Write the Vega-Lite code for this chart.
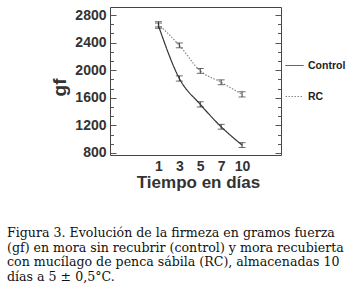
{
  "$schema": "https://vega.github.io/schema/vega-lite/v6.json",
  "width": 171,
  "height": 148,
  "autosize": {"type": "none"},
  "padding": {"left": 110, "top": 7, "right": 74, "bottom": 146},
  "background": "white",
  "config": {
    "view": {"stroke": "#444", "strokeWidth": 1},
    "font": "Liberation Sans"
  },
  "title": {
    "text": [
      "Figura 3. Evolución de la firmeza en gramos fuerza",
      "(gf) en mora sin recubrir (control) y mora recubierta",
      "con mucílago de penca sábila (RC), almacenadas 10",
      "días a 5 ± 0,5°C."
    ],
    "orient": "bottom",
    "anchor": "start",
    "frame": "group",
    "dx": -103,
    "offset": 37,
    "font": "DejaVu Serif",
    "fontSize": 12.6,
    "fontWeight": "normal",
    "lineHeight": 14.7,
    "color": "#111",
    "baseline": "top"
  },
  "data": {
    "values": [
      {"day": "1", "series": "Control", "gf": 2645, "lo": 2607, "hi": 2683},
      {"day": "3", "series": "Control", "gf": 1880, "lo": 1842, "hi": 1918},
      {"day": "5", "series": "Control", "gf": 1505, "lo": 1467, "hi": 1543},
      {"day": "7", "series": "Control", "gf": 1180, "lo": 1145, "hi": 1215},
      {"day": "10", "series": "Control", "gf": 915, "lo": 880, "hi": 950},
      {"day": "1", "series": "RC", "gf": 2665, "lo": 2627, "hi": 2703},
      {"day": "3", "series": "RC", "gf": 2360, "lo": 2325, "hi": 2395},
      {"day": "5", "series": "RC", "gf": 1990, "lo": 1955, "hi": 2025},
      {"day": "7", "series": "RC", "gf": 1825, "lo": 1790, "hi": 1860},
      {"day": "10", "series": "RC", "gf": 1650, "lo": 1612, "hi": 1688}
    ]
  },
  "encoding": {
    "x": {
      "field": "day",
      "type": "ordinal",
      "sort": ["1", "3", "5", "7", "10"],
      "scale": {"type": "point", "range": [38, 142.5]},
      "axis": {
        "labelFont": "Liberation Sans",
        "labelFontWeight": "bold",
        "labelFontSize": 14,
        "labelColor": "#333",
        "labelAngle": 0,
        "labelPadding": 4,
        "ticks": false,
        "domain": false,
        "grid": false,
        "title": "Tiempo en días",
        "titleFont": "Liberation Sans",
        "titleFontSize": 17,
        "titleFontWeight": "bold",
        "titleColor": "#333",
        "titleX": 88,
        "titleY": 19,
        "titleBaseline": "top"
      }
    }
  },
  "layer": [
    {
      "mark": {"type": "line", "interpolate": "monotone", "strokeWidth": 1.2},
      "encoding": {
        "y": {
          "field": "gf",
          "type": "quantitative",
          "scale": {"domain": [771, 2916], "nice": false, "zero": false},
          "axis": {
            "orient": "left",
            "values": [800, 1200, 1600, 2000, 2400, 2800],
            "format": "d",
            "labelFont": "Liberation Sans",
            "labelFontSize": 14,
            "labelFontWeight": "bold",
            "labelColor": "#333",
            "tickSize": -6,
            "tickColor": "#555",
            "labelPadding": 10,
            "domain": false,
            "grid": false,
            "title": "gf",
            "titleFont": "Liberation Sans",
            "titleFontSize": 19,
            "titleFontWeight": "bold",
            "titleColor": "#333",
            "titleX": -41,
            "titleY": 80
          }
        },
        "color": {
          "field": "series",
          "type": "nominal",
          "scale": {"domain": ["Control", "RC"], "range": ["#333333", "#888888"]},
          "legend": {
            "orient": "none",
            "legendX": 175,
            "legendY": 49,
            "title": null,
            "symbolType": "stroke",
            "symbolSize": 324,
            "symbolStrokeWidth": 1,
            "labelFont": "Liberation Sans",
            "labelFontSize": 10.5,
            "labelFontWeight": "bold",
            "labelColor": "#222",
            "rowPadding": 16,
            "labelOffset": 4
          }
        },
        "strokeDash": {
          "field": "series",
          "type": "nominal",
          "scale": {"domain": ["Control", "RC"], "range": [[1, 0], [1.5, 1.5]]},
          "legend": {
            "orient": "none",
            "legendX": 175,
            "legendY": 49,
            "title": null,
            "symbolType": "stroke",
            "symbolSize": 324,
            "symbolStrokeWidth": 1,
            "labelFont": "Liberation Sans",
            "labelFontSize": 10.5,
            "labelFontWeight": "bold",
            "labelColor": "#222",
            "rowPadding": 16,
            "labelOffset": 4
          }
        }
      }
    },
    {
      "mark": {"type": "rule", "color": "#333", "strokeWidth": 1},
      "encoding": {
        "y": {
          "field": "lo",
          "type": "quantitative",
          "scale": {"domain": [771, 2916], "nice": false, "zero": false},
          "axis": {
            "orient": "left",
            "values": [933.3, 1066.7, 1333.3, 1466.7, 1733.3, 1866.7, 2133.3, 2266.7, 2533.3, 2666.7],
            "labels": false,
            "tickSize": -3.5,
            "tickColor": "#555",
            "domain": false,
            "grid": false,
            "title": null
          }
        },
        "y2": {"field": "hi"}
      }
    },
    {
      "mark": {"type": "tick", "color": "#333", "size": 7, "thickness": 1},
      "encoding": {
        "y": {
          "field": "lo",
          "type": "quantitative",
          "scale": {"domain": [771, 2916], "nice": false, "zero": false},
          "axis": {
            "orient": "right",
            "values": [800, 1200, 1600, 2000, 2400, 2800],
            "labels": false,
            "tickSize": -6,
            "tickColor": "#555",
            "domain": false,
            "grid": false,
            "title": null
          }
        }
      }
    },
    {
      "mark": {"type": "tick", "color": "#333", "size": 7, "thickness": 1},
      "encoding": {
        "y": {
          "field": "hi",
          "type": "quantitative",
          "scale": {"domain": [771, 2916], "nice": false, "zero": false},
          "axis": {
            "orient": "right",
            "values": [933.3, 1066.7, 1333.3, 1466.7, 1733.3, 1866.7, 2133.3, 2266.7, 2533.3, 2666.7],
            "labels": false,
            "tickSize": -3.5,
            "tickColor": "#555",
            "domain": false,
            "grid": false,
            "title": null
          }
        }
      }
    }
  ],
  "resolve": {"axis": {"y": "independent"}}
}
